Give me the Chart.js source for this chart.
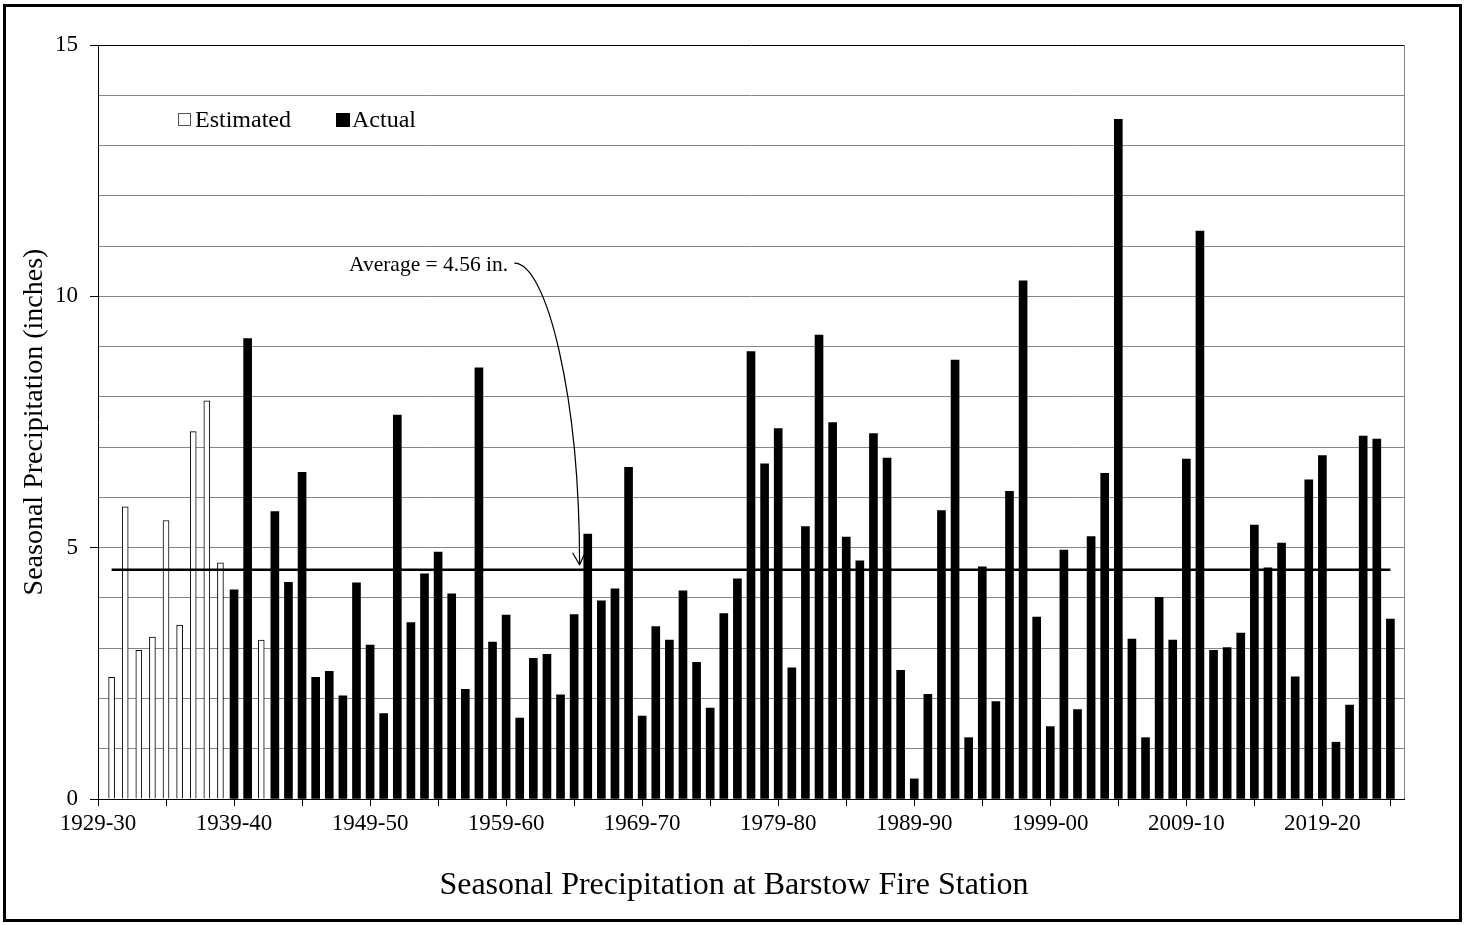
<!DOCTYPE html>
<html>
<head>
<meta charset="utf-8">
<title>Seasonal Precipitation at Barstow Fire Station</title>
<script src="https://cdn.jsdelivr.net/npm/chart.js@4/dist/chart.umd.min.js"></script>
<style>
  html, body { margin: 0; padding: 0; background: #fff; }
  #wrap { position: relative; width: 1468px; height: 925px; }
</style>
</head>
<body>
<div id="wrap"><canvas id="myChart"></canvas></div>
<script>
// seasons on the x axis (one bar each)
const seasons = [
  "1929-30","1930-31","1931-32","1932-33","1933-34","1934-35","1935-36","1936-37","1937-38","1938-39",
  "1939-40","1940-41","1941-42","1942-43","1943-44","1944-45","1945-46","1946-47","1947-48","1948-49",
  "1949-50","1950-51","1951-52","1952-53","1953-54","1954-55","1955-56","1956-57","1957-58","1958-59",
  "1959-60","1960-61","1961-62","1962-63","1963-64","1964-65","1965-66","1966-67","1967-68","1968-69",
  "1969-70","1970-71","1971-72","1972-73","1973-74","1974-75","1975-76","1976-77","1977-78","1978-79",
  "1979-80","1980-81","1981-82","1982-83","1983-84","1984-85","1985-86","1986-87","1987-88","1988-89",
  "1989-90","1990-91","1991-92","1992-93","1993-94","1994-95","1995-96","1996-97","1997-98","1998-99",
  "1999-00","2000-01","2001-02","2002-03","2003-04","2004-05","2005-06","2006-07","2007-08","2008-09",
  "2009-10","2010-11","2011-12","2012-13","2013-14","2014-15","2015-16","2016-17","2017-18","2018-19",
  "2019-20","2020-21","2021-22","2022-23","2023-24","2024-25"
];

// estimated seasons (white bars), inches
const estimated = [
  null, 2.42, 5.81, 2.96, 3.22, 5.54, 3.46, 7.31, 7.92, 4.70,
  null, null, 3.16, null, null, null, null, null, null, null,
  null, null, null, null, null, null, null, null, null, null,
  null, null, null, null, null, null, null, null, null, null,
  null, null, null, null, null, null, null, null, null, null,
  null, null, null, null, null, null, null, null, null, null,
  null, null, null, null, null, null, null, null, null, null,
  null, null, null, null, null, null, null, null, null, null,
  null, null, null, null, null, null, null, null, null, null,
  null, null, null, null, null, null
];

// measured seasons (black bars), inches
const actual = [
  null, null, null, null, null, null, null, null, null, null,
  4.16, 9.16, null, 5.72, 4.31, 6.50, 2.42, 2.54, 2.05, 4.30,
  3.06, 1.70, 7.64, 3.51, 4.48, 4.91, 4.08, 2.18, 8.58, 3.12,
  3.66, 1.61, 2.80, 2.88, 2.07, 3.67, 5.27, 3.94, 4.18, 6.60,
  1.65, 3.43, 3.16, 4.14, 2.72, 1.81, 3.69, 4.38, 8.90, 6.67,
  7.37, 2.61, 5.42, 9.23, 7.49, 5.21, 4.74, 7.27, 6.78, 2.56,
  0.40, 2.08, 5.74, 8.73, 1.22, 4.62, 1.94, 6.12, 10.31, 3.62,
  1.44, 4.95, 1.78, 5.22, 6.48, 13.52, 3.18, 1.22, 4.01, 3.16,
  6.76, 11.30, 2.96, 3.01, 3.30, 5.45, 4.60, 5.09, 2.43, 6.35,
  6.83, 1.13, 1.87, 7.22, 7.16, 3.58
];

const average = 4.56;
const yTicks = [0, 5, 10, 15];

const serif = '"Liberation Serif", "Times New Roman", serif';
Chart.defaults.font.family = serif;
Chart.defaults.color = "#000";

const toPoints = (arr) => arr.map((v, i) => ({ x: i, y: v }));
const firstIdx = estimated.findIndex(v => v !== null);
const lastIdx = actual.length - 1;

// legend inside the plot, average label + curved arrow, outer frame
const extras = {
    id: "extras",
    afterDatasetsDraw(chart) {
        const { ctx, chartArea: a, scales: { x, y } } = chart;
        ctx.save();
        // right edge of plot area
        ctx.strokeStyle = "#868686";
        ctx.lineWidth = 1;
        ctx.beginPath();
        ctx.moveTo(a.right + 0.5, a.top);
        ctx.lineTo(a.right + 0.5, a.bottom);
        ctx.stroke();

        // annotation text
        ctx.font = "21.5px " + serif;
        ctx.fillStyle = "#000";
        ctx.textAlign = "right";
        ctx.textBaseline = "middle";
        ctx.fillText("Average = " + average + " in.", x.getPixelForValue(30.15), y.getPixelForValue(10.62));

        // curved arrow
        const p0 = [x.getPixelForValue(30.6), y.getPixelForValue(10.66)];
        const p1 = [x.getPixelForValue(33.0), y.getPixelForValue(10.66)];
        const p2 = [x.getPixelForValue(35.4), y.getPixelForValue(8.0)];
        const p3 = [x.getPixelForValue(35.4), y.getPixelForValue(4.66)];
        ctx.strokeStyle = "#000";
        ctx.lineWidth = 1.2;
        ctx.beginPath();
        ctx.moveTo(p0[0], p0[1]);
        ctx.bezierCurveTo(p1[0], p1[1], p2[0], p2[1], p3[0], p3[1]);
        ctx.stroke();
        ctx.beginPath();
        ctx.moveTo(p3[0] - 7, p3[1] - 12);
        ctx.lineTo(p3[0], p3[1]);
        ctx.lineTo(p3[0] + 5, p3[1] - 11);
        ctx.stroke();

        // legend
        const ly = a.top + 75;
        ctx.font = "24px " + serif;
        ctx.textAlign = "left";
        ctx.fillStyle = "#fff";
        ctx.strokeStyle = "#555";
        ctx.lineWidth = 1;
        ctx.fillRect(a.left + 80.5, ly - 6.5, 12, 12);
        ctx.strokeRect(a.left + 80.5, ly - 6.5, 12, 12);
        ctx.fillStyle = "#000";
        ctx.fillText(chart.data.datasets[1].label, a.left + 97, ly + 1);
        ctx.fillRect(a.left + 238, ly - 7, 14, 14);
        ctx.fillText(chart.data.datasets[2].label, a.left + 254, ly + 1);
        ctx.restore();
    },
    afterDraw(chart) {
        const { ctx } = chart;
        ctx.save();
        ctx.strokeStyle = "#000";
        ctx.lineWidth = 3;
        ctx.strokeRect(4.5, 5.5, 1456, 915);
        ctx.restore();
    }
};

const ctx = document.getElementById("myChart").getContext("2d");
const chart = new Chart(ctx, {
    type: "bar",
    data: {
        datasets: [
            {
                type: "line",
                label: "Average",
                data: [{ x: firstIdx, y: average }, { x: lastIdx, y: average }],
                borderColor: "#000",
                borderWidth: 2.5,
                pointRadius: 0,
                order: 0
            },
            {
                label: "Estimated",
                data: toPoints(estimated),
                backgroundColor: "#fff",
                borderColor: "#000",
                borderWidth: 1,
                barThickness: 6,
                grouped: false,
                order: 1
            },
            {
                label: "Actual",
                data: toPoints(actual),
                backgroundColor: "#000",
                borderColor: "#000",
                barThickness: 8,
                grouped: false,
                order: 1
            }
        ]
    },
    options: {
        responsive: true,
        maintainAspectRatio: false,
        animation: false,
        layout: { padding: { left: 0, right: 0, top: 45, bottom: 12 } },
        plugins: {
            legend: { display: false },
            tooltip: { enabled: false },
            title: {
                display: true,
                position: "bottom",
                text: "Seasonal Precipitation at Barstow Fire Station",
                color: "#000",
                font: { size: 32, weight: "normal", family: serif },
                padding: { top: 17.6, bottom: 8 }
            }
        },
        scales: {
            x: {
                type: "linear",
                offset: false,
                min: 0,
                max: seasons.length,
                afterBuildTicks: (s) => {
                    s.ticks = seasons.map((_, i) => ({ value: i })).filter(t => t.value % 5 === 0);
                },
                afterFit: (s) => { s.height = 50; },
                ticks: {
                    autoSkip: false,
                    maxRotation: 0,
                    padding: 4,
                    font: { size: 23 },
                    callback: (v) => (v % 10 === 0 ? seasons[v] : "")
                },
                grid: { offset: false, drawOnChartArea: false, tickLength: 7, color: "#000" },
                border: { display: true, color: "#000", width: 1 }
            },
            y: {
                min: 0,
                max: 15,
                afterFit: (s) => { s.width = 98; },
                ticks: {
                    stepSize: 1,
                    padding: 12,
                    font: { size: 23 },
                    callback: (v) => (yTicks.includes(v) ? v : "")
                },
                grid: {
                    color: (c) => (c.tick && c.tick.value === 15 ? "#000" : "#868686"),
                    tickLength: 8,
                    tickColor: (c) => (c.tick && c.tick.value % 5 === 0 ? "#000" : "rgba(0,0,0,0)")
                },
                border: { display: true, color: "#000", width: 1 },
                title: {
                    display: true,
                    text: "Seasonal Precipitation (inches)",
                    font: { size: 28 },
                    padding: { top: 18, bottom: 0 }
                }
            },
            // empty right margin so the title centres on the whole canvas
            yRight: {
                position: "right",
                display: true,
                afterFit: (s) => { s.width = 64; },
                grid: { display: false },
                ticks: { display: false },
                border: { display: false }
            }
        }
    },
    plugins: [extras]
});
</script>
</body>
</html>
